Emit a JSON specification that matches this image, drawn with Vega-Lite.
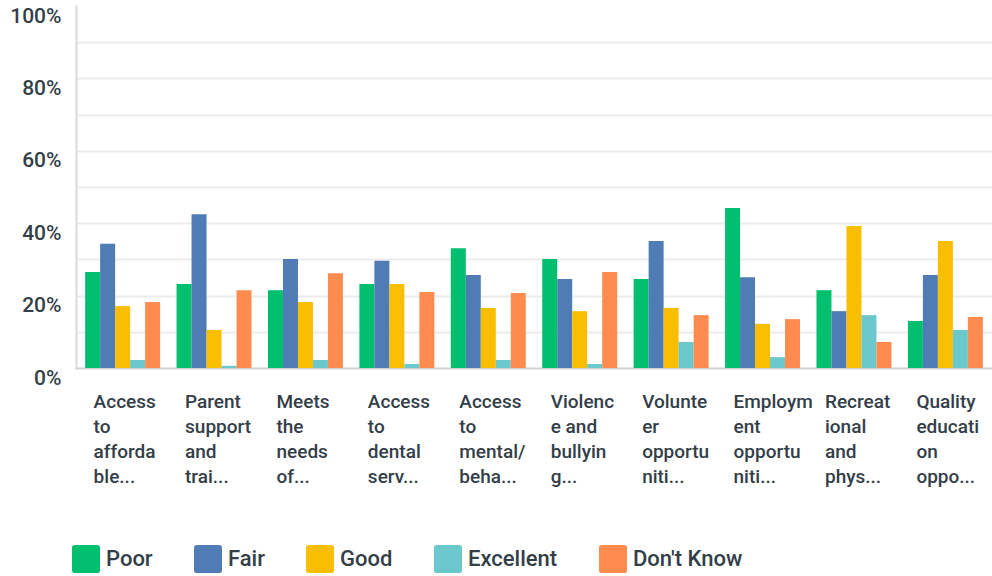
{
  "$schema": "https://vega.github.io/schema/vega-lite/v6.json",
  "width": 916,
  "height": 362,
  "autosize": {"type": "none"},
  "padding": {"left": 76, "top": 6, "right": 0, "bottom": 208},
  "background": "white",
  "data": {
    "values": [
      {"category": "Access|to|afforda|ble...", "rating": "Poor", "value": 26.5},
      {"category": "Access|to|afforda|ble...", "rating": "Fair", "value": 34.3},
      {"category": "Access|to|afforda|ble...", "rating": "Good", "value": 17.1},
      {"category": "Access|to|afforda|ble...", "rating": "Excellent", "value": 2.2},
      {"category": "Access|to|afforda|ble...", "rating": "Don't Know", "value": 18.2},
      {"category": "Parent|support|and|trai...", "rating": "Poor", "value": 23.2},
      {"category": "Parent|support|and|trai...", "rating": "Fair", "value": 42.5},
      {"category": "Parent|support|and|trai...", "rating": "Good", "value": 10.5},
      {"category": "Parent|support|and|trai...", "rating": "Excellent", "value": 0.6},
      {"category": "Parent|support|and|trai...", "rating": "Don't Know", "value": 21.5},
      {"category": "Meets|the|needs|of...", "rating": "Poor", "value": 21.5},
      {"category": "Meets|the|needs|of...", "rating": "Fair", "value": 30.1},
      {"category": "Meets|the|needs|of...", "rating": "Good", "value": 18.2},
      {"category": "Meets|the|needs|of...", "rating": "Excellent", "value": 2.2},
      {"category": "Meets|the|needs|of...", "rating": "Don't Know", "value": 26.2},
      {"category": "Access|to|dental|serv...", "rating": "Poor", "value": 23.2},
      {"category": "Access|to|dental|serv...", "rating": "Fair", "value": 29.6},
      {"category": "Access|to|dental|serv...", "rating": "Good", "value": 23.2},
      {"category": "Access|to|dental|serv...", "rating": "Excellent", "value": 1.1},
      {"category": "Access|to|dental|serv...", "rating": "Don't Know", "value": 21.0},
      {"category": "Access|to|mental/|beha...", "rating": "Poor", "value": 33.1},
      {"category": "Access|to|mental/|beha...", "rating": "Fair", "value": 25.7},
      {"category": "Access|to|mental/|beha...", "rating": "Good", "value": 16.6},
      {"category": "Access|to|mental/|beha...", "rating": "Excellent", "value": 2.2},
      {"category": "Access|to|mental/|beha...", "rating": "Don't Know", "value": 20.7},
      {"category": "Violenc|e and|bullyin|g...", "rating": "Poor", "value": 30.1},
      {"category": "Violenc|e and|bullyin|g...", "rating": "Fair", "value": 24.6},
      {"category": "Violenc|e and|bullyin|g...", "rating": "Good", "value": 15.7},
      {"category": "Violenc|e and|bullyin|g...", "rating": "Excellent", "value": 1.1},
      {"category": "Violenc|e and|bullyin|g...", "rating": "Don't Know", "value": 26.5},
      {"category": "Volunte|er|opportu|niti...", "rating": "Poor", "value": 24.6},
      {"category": "Volunte|er|opportu|niti...", "rating": "Fair", "value": 35.1},
      {"category": "Volunte|er|opportu|niti...", "rating": "Good", "value": 16.6},
      {"category": "Volunte|er|opportu|niti...", "rating": "Excellent", "value": 7.2},
      {"category": "Volunte|er|opportu|niti...", "rating": "Don't Know", "value": 14.6},
      {"category": "Employm|ent|opportu|niti...", "rating": "Poor", "value": 44.2},
      {"category": "Employm|ent|opportu|niti...", "rating": "Fair", "value": 25.1},
      {"category": "Employm|ent|opportu|niti...", "rating": "Good", "value": 12.2},
      {"category": "Employm|ent|opportu|niti...", "rating": "Excellent", "value": 3.0},
      {"category": "Employm|ent|opportu|niti...", "rating": "Don't Know", "value": 13.5},
      {"category": "Recreat|ional|and|phys...", "rating": "Poor", "value": 21.5},
      {"category": "Recreat|ional|and|phys...", "rating": "Fair", "value": 15.7},
      {"category": "Recreat|ional|and|phys...", "rating": "Good", "value": 39.2},
      {"category": "Recreat|ional|and|phys...", "rating": "Excellent", "value": 14.6},
      {"category": "Recreat|ional|and|phys...", "rating": "Don't Know", "value": 7.2},
      {"category": "Quality|educati|on|oppo...", "rating": "Poor", "value": 13.0},
      {"category": "Quality|educati|on|oppo...", "rating": "Fair", "value": 25.7},
      {"category": "Quality|educati|on|oppo...", "rating": "Good", "value": 35.1},
      {"category": "Quality|educati|on|oppo...", "rating": "Excellent", "value": 10.5},
      {"category": "Quality|educati|on|oppo...", "rating": "Don't Know", "value": 14.1}
    ]
  },
  "mark": {"type": "bar"},
  "encoding": {
    "x": {
      "field": "category",
      "type": "nominal",
      "sort": null,
      "scale": {"paddingInner": 0.18, "paddingOuter": 0.1},
      "axis": {
        "title": null,
        "labelAngle": 0,
        "labelAlign": "left",
        "labelBaseline": "top",
        "labelOffset": -29,
        "labelPadding": 24,
        "labelLineHeight": 25,
        "labelExpr": "split(datum.label, '|')",
        "labelFont": "Roboto",
        "labelFontSize": 19,
        "labelFontWeight": 500,
        "labelColor": "#333e48",
        "labelLimit": 200,
        "labelOverlap": false,
        "labelBound": false,
        "ticks": false,
        "grid": false,
        "domainColor": "#d0d0d0",
        "domainWidth": 2
      }
    },
    "xOffset": {
      "field": "rating",
      "type": "nominal",
      "sort": ["Poor", "Fair", "Good", "Excellent", "Don't Know"],
      "scale": {"paddingInner": 0, "paddingOuter": 0}
    },
    "y": {
      "field": "value",
      "type": "quantitative",
      "scale": {"domain": [0, 100], "nice": false},
      "axis": {
        "title": null,
        "values": [0, 10, 20, 30, 40, 50, 60, 70, 80, 90, 100],
        "labelExpr": "datum.value % 20 == 0 ? datum.value + '%' : ''",
        "labelFont": "Roboto",
        "labelFontSize": 21,
        "labelFontWeight": 500,
        "labelColor": "#333e48",
        "labelBaseline": "top",
        "labelOffset": -1,
        "labelPadding": 15,
        "ticks": false,
        "domainColor": "#d9d9d9",
        "domainWidth": 2,
        "gridColor": "#ececec",
        "gridWidth": 2,
        "gridOpacity": {"condition": {"test": "datum.value == 100 || datum.value == 0", "value": 0}, "value": 1}
      }
    },
    "color": {
      "field": "rating",
      "type": "nominal",
      "sort": ["Poor", "Fair", "Good", "Excellent", "Don't Know"],
      "scale": {
        "domain": ["Poor", "Fair", "Good", "Excellent", "Don't Know"],
        "range": ["#00bf6f", "#507cb6", "#f9be00", "#6bc8cd", "#ff8b4f"]
      },
      "legend": {
        "title": null,
        "orient": "none",
        "direction": "horizontal",
        "legendX": -4,
        "legendY": 539,
        "symbolType": "M-0.8,-1H0.8Q1,-1,1,-0.8V0.8Q1,1,0.8,1H-0.8Q-1,1,-1,0.8V-0.8Q-1,-1,-0.8,-1Z",
        "symbolSize": 784,
        "symbolStrokeWidth": 0,
        "symbolOpacity": 1,
        "labelFont": "Roboto",
        "labelFontSize": 22,
        "labelFontWeight": 500,
        "labelColor": "#333e48",
        "labelOffset": 6,
        "columnPadding": 41,
        "labelLimit": 300
      }
    }
  },
  "config": {
    "view": {"stroke": null},
    "axis": {"domainCap": "square"}
  }
}
